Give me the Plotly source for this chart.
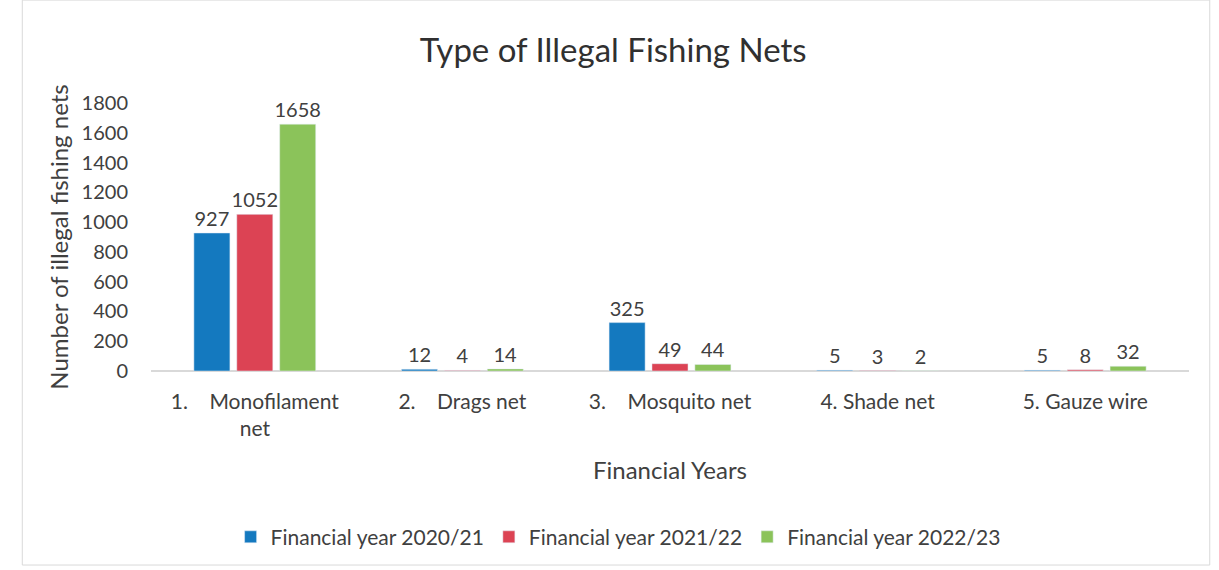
import plotly.graph_objects as go

categories = ["1.    Monofilament<br>net", "2.    Drags net", "3.    Mosquito net", "4. Shade net", "5. Gauze wire"]
fy_2020_21 = [927, 12, 325, 5, 5]
fy_2021_22 = [1052, 4, 49, 3, 8]
fy_2022_23 = [1658, 14, 44, 2, 32]
series_names = ["Financial year 2020/21", "Financial year 2021/22", "Financial year 2022/23"]
y_ticks = [0, 200, 400, 600, 800, 1000, 1200, 1400, 1600, 1800]

colors = ["#1479bf", "#dc4354", "#8bc35a"]
FONT = "Lato, 'Open Sans', sans-serif"

fig = go.Figure()
for name, vals, col in zip(series_names, [fy_2020_21, fy_2021_22, fy_2022_23], colors):
    fig.add_trace(go.Bar(
        x=categories, y=vals, name=name, marker_color=col,
        text=[str(v) for v in vals], textposition="outside", cliponaxis=False,
        constraintext="none",
        textfont=dict(size=20, color="#404040", family=FONT),
    ))

fig.update_layout(
    width=1219, height=570,
    paper_bgcolor="white", plot_bgcolor="white",
    margin=dict(l=151, r=30, t=103, b=199),
    barmode="group", bargap=0.38, bargroupgap=0.16,
    font=dict(family=FONT, color="#404040"),
    title=dict(text="Type of Illegal Fishing Nets", x=0.503, xanchor="center",
               y=0.912, yanchor="middle", font=dict(size=33, color="#303030", family=FONT)),
    xaxis=dict(showgrid=False, showline=False, ticks="", tickfont=dict(size=21, color="#404040"),
               ticklabelstandoff=16,
               title=dict(text="Financial Years", font=dict(size=24, color="#404040"), standoff=22)),
    yaxis=dict(range=[0, 1800], tickvals=y_ticks, showgrid=False, zeroline=True,
               zerolinecolor="#d9d9d9", zerolinewidth=1.5, showline=False,
               tickfont=dict(size=20, color="#404040"), ticklabelstandoff=22,
               title=dict(text="Number of illegal fishing nets", font=dict(size=24, color="#404040"), standoff=6)),
    legend=dict(orientation="h", x=0.45, xanchor="center", y=-0.62, yanchor="middle",
                font=dict(size=21, color="#404040"), itemwidth=30, traceorder="normal"),
    shapes=[dict(type="rect", xref="paper", yref="paper", x0=-0.124, x1=1.02, y0=-0.724, y1=1.384,
                 line=dict(color="#d9d9d9", width=1), fillcolor="rgba(0,0,0,0)", layer="below")],
)

fig.write_html("out.html")
